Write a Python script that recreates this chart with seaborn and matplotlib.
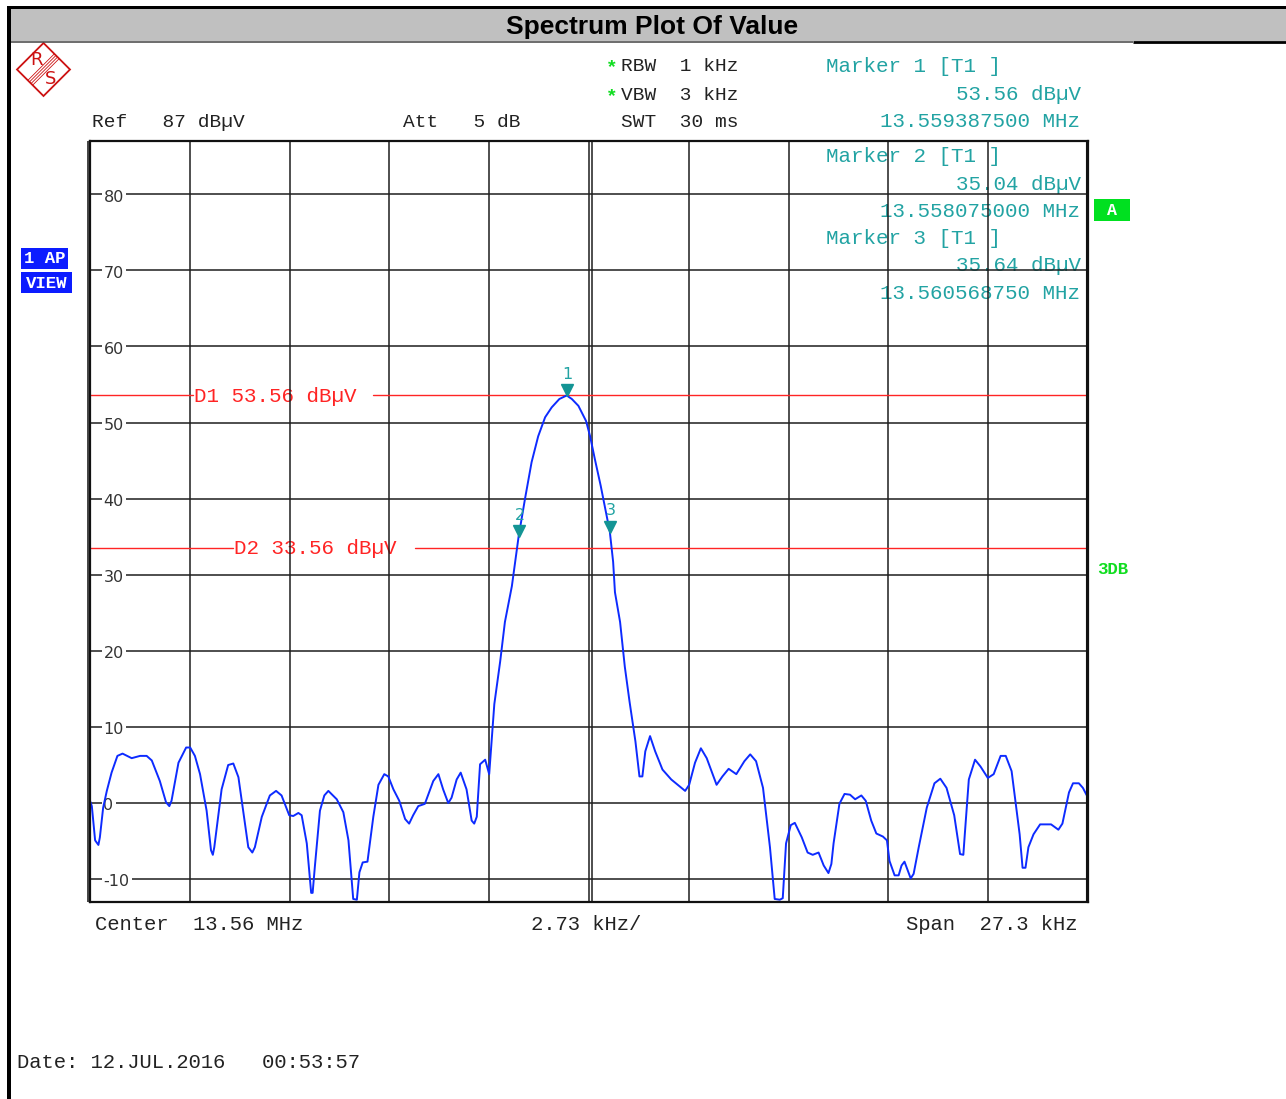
import matplotlib
matplotlib.use('Agg')
import matplotlib.pyplot as plt
import matplotlib.transforms as mtransforms
from matplotlib.patches import Rectangle, Polygon
from matplotlib.lines import Line2D
import seaborn as sns

# analyzer settings
center_mhz = 13.56
span_khz = 27.3
ref_level = 87
range_db = 100
level_ticks = [80, 70, 60, 50, 40, 30, 20, 10, 0, -10]

# display lines
dline_names = ['D1', 'D2']
dline_levels = [53.56, 33.56]

# markers
marker_ids = [1, 2, 3]
marker_mhz = [13.5593875, 13.558075, 13.56056875]
marker_dbuv = [53.56, 35.04, 35.64]

# trace, offset from center in kHz / level in dBuV
trace_khz = [
    -13.65, -13.60, -13.51, -13.42, -13.38, -13.29, -13.19, -13.06, -12.90, -12.76,
    -12.51, -12.28, -12.10, -11.96, -11.74, -11.57, -11.48, -11.42, -11.23, -11.02,
    -10.91, -10.78, -10.64, -10.46, -10.34, -10.29, -10.25, -10.05, -9.87, -9.73,
    -9.59, -9.46, -9.32, -9.21, -9.14, -8.95, -8.73, -8.56, -8.41, -8.20,
    -8.09, -7.95, -7.86, -7.72, -7.60, -7.56, -7.50, -7.36, -7.24, -7.13,
    -6.90, -6.72, -6.58, -6.45, -6.35, -6.28, -6.19, -6.06, -5.90, -5.76,
    -5.60, -5.49, -5.35, -5.19, -5.03, -4.92, -4.81, -4.67, -4.49, -4.26,
    -4.12, -3.99, -3.85, -3.76, -3.62, -3.51, -3.35, -3.21, -3.14, -3.07,
    -2.98, -2.84, -2.73, -2.59, -2.43, -2.30, -2.11, -2.02, -1.925, -1.75,
    -1.57, -1.39, -1.20, -1.02, -0.81, -0.61, -0.47, -0.29, -0.08, 0.03,
    0.16, 0.32, 0.48, 0.57, 0.66, 0.71, 0.85, 0.98, 1.11, 1.27,
    1.38, 1.46, 1.54, 1.67, 1.81, 2.01, 2.25, 2.63, 2.74, 2.90,
    3.06, 3.22, 3.49, 3.65, 3.82, 4.03, 4.25, 4.41, 4.57, 4.76,
    4.95, 5.08, 5.22, 5.30, 5.39, 5.52, 5.63, 5.82, 5.98, 6.12,
    6.28, 6.42, 6.55, 6.63, 6.69, 6.85, 6.99, 7.14, 7.28, 7.45,
    7.57, 7.72, 7.86, 8.04, 8.15, 8.22, 8.36, 8.47, 8.55, 8.63,
    8.80, 8.88, 9.02, 9.24, 9.45, 9.61, 9.78, 9.99, 10.15, 10.24,
    10.28, 10.39, 10.56, 10.71, 10.91, 11.07, 11.26, 11.40, 11.56, 11.78,
    11.86, 11.94, 12.02, 12.16, 12.34, 12.64, 12.84, 12.95, 13.13, 13.24,
    13.40, 13.51, 13.65,
]
trace_dbuv = [
    0.3, -0.4, -4.9, -5.5, -4.5, -0.6, 1.6, 4.0, 6.2, 6.5,
    5.9, 6.2, 6.2, 5.6, 2.9, 0.1, -0.4, 0.3, 5.3, 7.3,
    7.3, 6.2, 3.8, -1.0, -6.2, -6.8, -5.8, 1.8, 5.0, 5.2,
    3.4, -1.0, -5.8, -6.5, -5.8, -1.8, 1.0, 1.6, 1.0, -1.6,
    -1.7, -1.3, -1.6, -5.3, -11.8, -11.8, -8.4, -1.0, 1.0, 1.6,
    0.5, -1.2, -4.9, -12.6, -12.7, -9.1, -7.8, -7.7, -1.8, 2.4,
    3.8, 3.5, 1.8, 0.3, -2.1, -2.7, -1.6, -0.4, -0.1, 2.9,
    3.8, 1.8, 0.0, 0.7, 3.1, 4.0, 1.8, -2.3, -2.7, -1.8,
    5.1, 5.7, 3.8, 13.0, 18.6, 23.8, 28.5, 31.7, 35.04, 40.0,
    44.8, 48.2, 50.7, 52.0, 53.1, 53.56, 53.1, 52.2, 50.2, 48.2,
    45.2, 41.7, 37.8, 35.64, 31.7, 27.7, 23.8, 17.9, 13.3, 8.1,
    3.5, 3.5, 6.8, 8.8, 6.8, 4.4, 3.1, 1.6, 2.4, 5.3,
    7.2, 5.9, 2.4, 3.5, 4.5, 3.8, 5.5, 6.4, 5.5, 2.0,
    -5.8, -12.6, -12.7, -12.5, -5.3, -2.9, -2.6, -4.5, -6.5, -6.8,
    -6.5, -8.2, -9.2, -8.0, -5.3, -0.1, 1.2, 1.1, 0.5, 1.0,
    0.3, -2.3, -4.0, -4.4, -4.9, -7.6, -9.5, -9.5, -8.2, -7.7,
    -9.9, -9.3, -5.8, -0.6, 2.6, 3.2, 2.0, -1.6, -6.7, -6.8,
    -4.1, 3.1, 5.7, 4.8, 3.3, 3.8, 6.2, 6.2, 4.2, -4.1,
    -8.5, -8.5, -5.8, -4.1, -2.8, -2.8, -3.5, -2.7, 1.4, 2.6,
    2.6, 2.0, 0.7,
]

MONO = 'Liberation Mono'
TEAL = '#22a3a3'
TEAL_DARK = '#139494'
RED = '#ff2424'
GREEN = '#10dd20'
BLUE = '#0c1cff'
TRACE = '#0d2bff'
GRID = '#1e1e1e'

W, H = 1286, 1099


def fx(px):
    return px / W


def fy(py):
    return 1 - py / H


sns.set_theme(style='white')
plt.rcParams['font.family'] = ['DejaVu Sans']

fig = plt.figure(figsize=(W / 100, H / 100), dpi=100)
fig.patch.set_facecolor('white')
ax = fig.add_axes([fx(90), fy(902), fx(1088) - fx(90), fy(141) - fy(902)])


def ftext(px, py, s, **kw):
    # text placed in figure pixels but owned by the axes (so grid can cover it)
    return ax.text(fx(px), fy(py), s, transform=fig.transFigure, **kw)


def frect(x0, y0, x1, y1, color):
    fig.add_artist(Rectangle((fx(x0), fy(y1)), fx(x1) - fx(x0), fy(y0) - fy(y1),
                             transform=fig.transFigure, color=color, lw=0))


def fline(x0, y0, x1, y1, color, lw):
    fig.add_artist(Line2D([fx(x0), fx(x1)], [fy(y0), fy(y1)],
                          transform=fig.transFigure, color=color, lw=lw,
                          solid_capstyle='butt'))


# ---- plot area ----
half = span_khz / 2
ax.set_xlim(-half, half)
ax.set_ylim(ref_level - range_db, ref_level)
ax.set_xticks([k * span_khz / 10 for k in range(-4, 5)])
ax.set_yticks(level_ticks)
ax.tick_params(length=0, labelbottom=False, labelleft=False)
ax.grid(True, color=GRID, lw=1.1)
ax.set_axisbelow(False)
# R&S draws the centre line doubled
ax.axvline(0.09, color=GRID, lw=1.1, zorder=2.5)
for sp in ax.spines.values():
    sp.set_color('#111111')
    sp.set_linewidth(1.6)
    sp.set_zorder(5)
fline(87.6, 141, 87.6, 902, '#111111', 1.1)
fline(1085.5, 141, 1085.5, 902, '#111111', 0.8)

sns.lineplot(x=trace_khz, y=trace_dbuv, ax=ax, color=TRACE, linewidth=1.4,
             zorder=4)

# level labels inside the grid, breaking the lines
lab_tr = mtransforms.blended_transform_factory(ax.transAxes, ax.transData)
for v in level_ticks:
    ax.annotate(str(v), xy=(0.0135, v), xycoords=lab_tr, xytext=(0, -7.3),
                textcoords='offset pixels', va='baseline', ha='left',
                fontsize=11.5, color='#333333', zorder=3,
                bbox=dict(boxstyle='square,pad=0.12', fc='white', ec='none'))

# display lines D1 / D2
gap_start = [0.1035, 0.1435]
gap_end = [0.2835, 0.3255]
for name, lvl, g0, g1 in zip(dline_names, dline_levels, gap_start, gap_end):
    ax.axhline(lvl, xmin=0, xmax=g0, color=RED, lw=1.0, zorder=3)
    ax.axhline(lvl, xmin=g1, xmax=1, color=RED, lw=1.0, zorder=3)
    ax.annotate(f'{name} {lvl:.2f} dB\u00b5V', xy=(g0 + 0.001, lvl),
                xycoords=lab_tr, xytext=(0, -6.5), textcoords='offset pixels',
                va='baseline', ha='left', fontsize=15, family=MONO, color=RED,
                zorder=1)

# markers
marker_khz = [(f - center_mhz) * 1000 for f in marker_mhz]
tri_tr = mtransforms.offset_copy(ax.transData, fig=fig, x=0, y=5, units='dots')
ax.plot(marker_khz, marker_dbuv, ls='none', marker='v', ms=8, color=TEAL_DARK,
        transform=tri_tr, zorder=6)
for mid, mk, mv in zip(marker_ids, marker_khz, marker_dbuv):
    ax.annotate(str(mid), xy=(mk, mv), xytext=(1, 21), textcoords='offset pixels',
                ha='center', va='center', fontsize=11.5, color=TEAL, zorder=6)

# marker readout (behind grid)
for mid, f, v, by in zip(marker_ids, marker_mhz, marker_dbuv, [72.5, 162.5, 244.3]):
    ftext(826, by, f'Marker {mid} [T1 ]', fontsize=15, family=MONO, color=TEAL,
          va='baseline', ha='left', zorder=1)
    ftext(1081, by + 27, f'{v:.2f} dB\u00b5V', fontsize=15, family=MONO,
          color=TEAL, va='baseline', ha='right', zorder=1)
    ftext(1080, by + 54.3, f'{f:.9f} MHz', fontsize=15, family=MONO, color=TEAL,
          va='baseline', ha='right', zorder=1)

# ---- header ----
HDR = '#222222'
ftext(606, 72, '*', fontsize=14, family=MONO, color=GREEN, fontweight='bold',
      va='baseline')
ftext(621, 71, 'RBW  1 kHz', fontsize=14, family=MONO, color=HDR, va='baseline')
ftext(606, 101, '*', fontsize=14, family=MONO, color=GREEN, fontweight='bold',
      va='baseline')
ftext(621, 100, 'VBW  3 kHz', fontsize=14, family=MONO, color=HDR, va='baseline')
ftext(621, 126.7, 'SWT  30 ms', fontsize=14, family=MONO, color=HDR,
      va='baseline')
ftext(92, 126.7, f'Ref   {ref_level} dB\u00b5V', fontsize=14, family=MONO,
      color=HDR, va='baseline')
ftext(403, 126.7, 'Att   5 dB', fontsize=14, family=MONO, color=HDR,
      va='baseline')

# ---- footer ----
ftext(95, 929.5, f'Center  {center_mhz:g} MHz', fontsize=14.8, family=MONO,
      color=HDR, va='baseline')
ftext(531, 929.5, f'{span_khz / 10:.2f} kHz/', fontsize=14.8, family=MONO,
      color=HDR, va='baseline')
ftext(1077, 929.5, f'Span  {span_khz:g} kHz', fontsize=14.8, family=MONO,
      color=HDR, va='baseline', ha='right')
ftext(17, 1068, 'Date: 12.JUL.2016   00:53:57', fontsize=14.8, family=MONO,
      color=HDR, va='baseline')

# ---- frame and title bar ----
frect(11, 9.3, W, 41, '#c0c0c0')
frect(7, 6, W, 9.3, '#000000')
frect(7.3, 6, 10.7, H, '#000000')
fline(11, 41.6, 1133, 41.6, '#444444', 1.1)
fline(1133, 41.8, W, 41.8, '#000000', 2.0)
fig.text(fx(652), fy(27), 'Spectrum Plot Of Value', ha='center', va='center',
         fontsize=19, fontweight='bold', family='Liberation Sans', color='black')

# R&S logo
LOGO = '#cc1111'
fig.add_artist(Polygon([(fx(43.5), fy(43)), (fx(70), fy(69.5)),
                        (fx(43.5), fy(96)), (fx(17), fy(69.5))], closed=True,
                       fill=False, ec=LOGO, lw=1.3, transform=fig.transFigure))
for d in [-2.4, -0.8, 0.8, 2.4]:
    fline(30.25 + d, 82.75 + d, 56.75 + d, 56.25 + d, LOGO, 0.6)
fig.text(fx(36), fy(60), 'R', fontsize=13, color=LOGO, ha='center',
         va='center')
fig.text(fx(50.5), fy(78.5), 'S', fontsize=13, color=LOGO, ha='center',
         va='center')

# side badges
frect(21, 248, 68, 269, BLUE)
fig.text(fx(44.5), fy(259), '1 AP', fontsize=12.5, family=MONO,
         fontweight='bold', color='white', ha='center', va='center')
frect(21, 272, 72, 293, BLUE)
fig.text(fx(46.5), fy(283), 'VIEW', fontsize=12.5, family=MONO,
         fontweight='bold', color='white', ha='center', va='center')
frect(1094, 199, 1130, 221, '#00e020')
fig.text(fx(1112), fy(210.5), 'A', fontsize=12, family=MONO, fontweight='bold',
         color='white', ha='center', va='center')
fig.text(fx(1097), fy(574), '3DB', fontsize=12.5, family=MONO,
         fontweight='bold', color=GREEN, ha='left', va='baseline')

fig.savefig('out.png', dpi=100)
